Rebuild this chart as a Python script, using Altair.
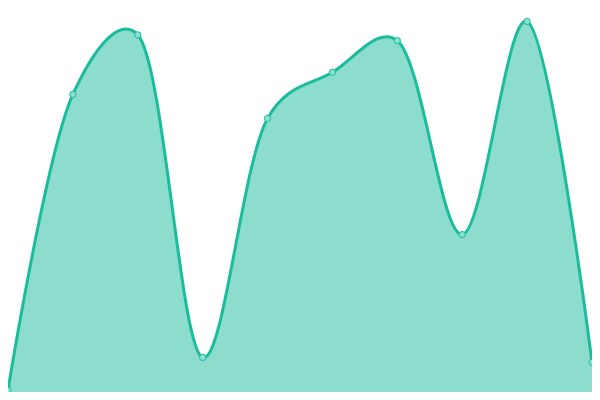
import altair as alt
import pandas as pd

idx = [0, 1, 2, 3, 4, 5, 6, 7, 8, 9]
values = [2, 310, 372, 36, 285, 333, 366, 164, 386, 31]

df = pd.DataFrame({"i": idx, "v": values})

x = alt.X("i:Q", axis=None, scale=alt.Scale(domain=[0, 9], nice=False, zero=False))
y = alt.Y("v:Q", axis=None, scale=alt.Scale(domain=[0, 400], nice=False))

base = alt.Chart(df)
area = base.mark_area(
    interpolate="catmull-rom", tension=0.25, color="#1abc9c", fillOpacity=0.5,
    line={"color": "#1abc9c", "strokeWidth": 3},
).encode(x=x, y=y)
pts = base.mark_point(
    filled=True, size=40, fill="#8be0cf", stroke="#1abc9c", strokeWidth=1, opacity=1
).encode(x=x, y=y)

chart = (area + pts).properties(
    width=584, height=384, padding=0, autosize="none"
).configure_view(stroke=None)

chart.save("out.html", embed_options={"renderer": "svg", "actions": False})
